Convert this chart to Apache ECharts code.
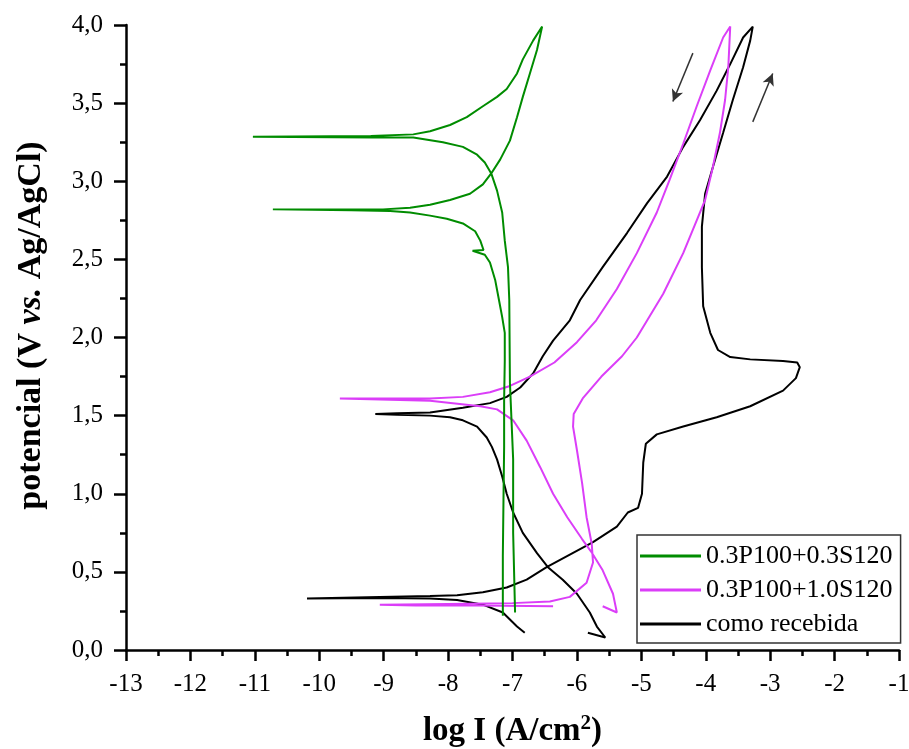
<!DOCTYPE html>
<html>
<head>
<meta charset="utf-8">
<script src="https://cdn.jsdelivr.net/npm/echarts@6/dist/echarts.min.js"></script>
<style>html,body{margin:0;padding:0;background:#fff}#c{width:909px;height:749px}</style>
</head>
<body>
<div id="c"></div>
<script>
const seriesNames = ['0.3P100+0.3S120', '0.3P100+1.0S120', 'como recebida'];
const seriesColors = ['#008c00', '#db3ef8', '#000000'];

// [log I, E] pairs, in scan order
const curveGreen = [
  [-7.15,0.22],[-7.15,0.60],[-7.14,0.96],[-7.13,1.30],[-7.13,1.60],[-7.12,1.85],[-7.12,2.03],[-7.16,2.13],
  [-7.21,2.24],[-7.27,2.37],[-7.35,2.48],[-7.43,2.53],[-7.62,2.555],[-7.45,2.56],[-7.50,2.62],[-7.58,2.68],
  [-7.77,2.73],[-8.02,2.76],[-8.28,2.78],[-8.59,2.80],[-8.90,2.81],[-9.50,2.815],[-10.72,2.82],[-9.72,2.82],
  [-9.01,2.82],[-8.59,2.83],[-8.28,2.85],[-7.97,2.88],[-7.66,2.92],[-7.46,2.98],[-7.33,3.05],[-7.19,3.14],
  [-7.04,3.26],[-6.93,3.41],[-6.84,3.54],[-6.73,3.69],[-6.62,3.84],[-6.54,3.99],[-6.68,3.90],[-6.84,3.78],
  [-6.93,3.69],[-7.09,3.59],[-7.24,3.54],[-7.46,3.48],[-7.71,3.41],[-7.97,3.36],[-8.28,3.32],[-8.54,3.30],
  [-9.20,3.29],[-11.03,3.285],[-9.17,3.28],[-8.54,3.28],[-8.08,3.25],[-7.77,3.22],[-7.55,3.17],[-7.43,3.12],
  [-7.33,3.05],[-7.24,2.94],[-7.16,2.80],[-7.12,2.62],[-7.07,2.45],[-7.05,2.24],[-7.04,1.71],[-6.99,1.22],
  [-6.99,0.75],[-6.96,0.24]
];

const curveMagenta = [
  [-6.37,0.28],[-7.50,0.285],[-8.50,0.285],[-9.06,0.29],[-8.00,0.295],[-7.00,0.30],[-6.42,0.31],[-6.11,0.34],
  [-5.85,0.43],[-5.75,0.56],[-5.77,0.68],[-5.85,0.85],[-5.92,1.07],[-6.00,1.28],[-6.06,1.43],[-6.05,1.51],
  [-5.91,1.61],[-5.62,1.75],[-5.30,1.88],[-5.07,2.00],[-4.66,2.28],[-4.35,2.54],[-4.14,2.75],[-4.01,2.88],
  [-3.89,3.09],[-3.78,3.31],[-3.70,3.52],[-3.65,3.73],[-3.62,3.99],[-3.73,3.92],[-3.93,3.71],[-4.14,3.48],
  [-4.35,3.24],[-4.56,3.01],[-4.76,2.80],[-5.07,2.54],[-5.38,2.31],[-5.70,2.11],[-6.00,1.97],[-6.35,1.84],
  [-6.73,1.75],[-7.04,1.69],[-7.35,1.65],[-7.77,1.62],[-8.28,1.61],[-9.68,1.61],[-8.28,1.595],[-7.50,1.56],
  [-7.24,1.54],[-6.99,1.47],[-6.78,1.34],[-6.57,1.17],[-6.37,1.00],[-6.15,0.85],[-5.92,0.71],[-5.78,0.63],
  [-5.60,0.51],[-5.44,0.36],[-5.38,0.24],[-5.60,0.28]
];

const curveBlack = [
  [-6.81,0.11],[-6.93,0.15],[-7.15,0.24],[-7.46,0.29],[-7.86,0.32],[-8.28,0.33],[-9.06,0.333],[-10.19,0.33],
  [-9.06,0.34],[-8.28,0.345],[-7.86,0.35],[-7.46,0.37],[-7.09,0.40],[-6.78,0.45],[-6.47,0.53],[-6.11,0.61],
  [-5.75,0.69],[-5.38,0.79],[-5.21,0.88],[-5.05,0.91],[-4.99,1.00],[-4.97,1.20],[-4.93,1.32],[-4.76,1.38],
  [-4.35,1.43],[-3.83,1.49],[-3.31,1.56],[-2.80,1.66],[-2.60,1.74],[-2.54,1.81],[-2.58,1.84],[-2.80,1.85],
  [-3.31,1.86],[-3.62,1.875],[-3.81,1.92],[-3.93,2.03],[-4.04,2.20],[-4.06,2.45],[-4.06,2.71],[-4.01,2.92],
  [-3.89,3.09],[-3.73,3.31],[-3.58,3.52],[-3.42,3.73],[-3.31,3.90],[-3.27,3.99],[-3.42,3.92],[-3.62,3.75],
  [-3.83,3.58],[-4.09,3.39],[-4.35,3.22],[-4.60,3.03],[-4.91,2.86],[-5.22,2.67],[-5.60,2.45],[-5.95,2.24],
  [-6.11,2.11],[-6.37,1.98],[-6.53,1.88],[-6.68,1.77],[-6.88,1.68],[-7.09,1.62],[-7.35,1.58],[-7.77,1.55],
  [-8.28,1.52],[-8.79,1.515],[-9.13,1.51],[-8.79,1.505],[-8.28,1.50],[-7.97,1.49],[-7.77,1.47],[-7.55,1.43],
  [-7.40,1.36],[-7.32,1.30],[-7.24,1.22],[-7.16,1.11],[-7.09,1.00],[-6.99,0.88],[-6.84,0.75],[-6.62,0.62],
  [-6.45,0.53],[-6.22,0.45],[-6.00,0.36],[-5.80,0.24],[-5.69,0.15],[-5.56,0.08],[-5.83,0.11]
];

// scan-direction arrows: [start, end] in data coordinates
const arrowSegments = [
  [[-4.20,3.82],[-4.51,3.51]],
  [[-3.27,3.38],[-2.96,3.69]]
];

const xRange = [-13, -1];
const yRange = [0, 4];

const FONT = "'Liberation Serif','Times New Roman',serif";
const chart = echarts.init(document.getElementById('c'), null, {renderer: 'canvas'});

const curves = [curveGreen, curveMagenta, curveBlack];
const series = curves.map((d, i) => ({
  name: seriesNames[i],
  type: 'line',
  data: d,
  showSymbol: false,
  symbol: 'none',
  lineStyle: {color: seriesColors[i], width: 2},
  itemStyle: {color: seriesColors[i]},
  z: 3 + (2 - i)
}));
series.push({
  name: 'arrows',
  type: 'line',
  data: [],
  silent: true,
  markLine: {
    silent: true,
    animation: false,
    symbol: ['none', 'arrow'],
    symbolSize: [9, 12],
    label: {show: false},
    lineStyle: {color: '#333', width: 1.5, type: 'solid'},
    data: arrowSegments.map(s => [{coord: s[0]}, {coord: s[1]}])
  }
});

chart.setOption({
  animation: false,
  backgroundColor: '#fff',
  grid: {left: 126, right: 10, top: 25, bottom: 99, containLabel: false, outerBoundsMode: 'none'},
  legend: {
    data: seriesNames,
    orient: 'vertical',
    left: 637, top: 535,
    icon: 'rect',
    itemWidth: 61, itemHeight: 3,
    itemGap: 8,
    padding: [8, 8, 6, 3],
    borderColor: '#333', borderWidth: 1.5,
    backgroundColor: '#fff',
    textStyle: {fontFamily: FONT, fontSize: 26, color: '#000', lineHeight: 24}
  },
  xAxis: {
    type: 'value', min: xRange[0], max: xRange[1], interval: 1,
    name: '{a|log I (A/cm}{s|2}{a|)}',
    nameLocation: 'middle', nameGap: 63,
    nameTextStyle: {rich: {
      a: {fontFamily: FONT, fontSize: 33, fontWeight: 'bold', color: '#000'},
      s: {fontFamily: FONT, fontSize: 21, fontWeight: 'bold', color: '#000', padding: [0, 0, 15, 0]}
    }},
    axisLine: {show: true, onZero: false, lineStyle: {color: '#000', width: 2.5}},
    axisTick: {show: true, inside: false, length: 11, lineStyle: {color: '#000', width: 2.5}},
    minorTick: {show: true, splitNumber: 2, length: 6, lineStyle: {color: '#000', width: 2.5}},
    splitLine: {show: false},
    axisLabel: {margin: 22, fontFamily: FONT, fontSize: 25, color: '#000'}
  },
  yAxis: {
    type: 'value', min: yRange[0], max: yRange[1], interval: 0.5,
    name: '{a|potencial (V }{i|vs.}{a| Ag/AgCl)}',
    nameLocation: 'middle', nameGap: 78, nameRotate: 90,
    nameTextStyle: {padding: [0, 0, 0, 24], rich: {
      a: {fontFamily: FONT, fontSize: 34, fontWeight: 'bold', color: '#000'},
      i: {fontFamily: FONT, fontSize: 34, fontWeight: 'bold', fontStyle: 'italic', color: '#000'}
    }},
    axisLine: {show: true, onZero: false, lineStyle: {color: '#000', width: 2.5}},
    axisTick: {show: true, inside: false, length: 12, lineStyle: {color: '#000', width: 2.5}},
    minorTick: {show: true, splitNumber: 2, length: 6, lineStyle: {color: '#000', width: 2.5}},
    splitLine: {show: false},
    axisLabel: {margin: 23, fontFamily: FONT, fontSize: 25, color: '#000',
      formatter: v => v.toFixed(1).replace('.', ',')}
  },
  series: series
});
</script>
</body>
</html>
